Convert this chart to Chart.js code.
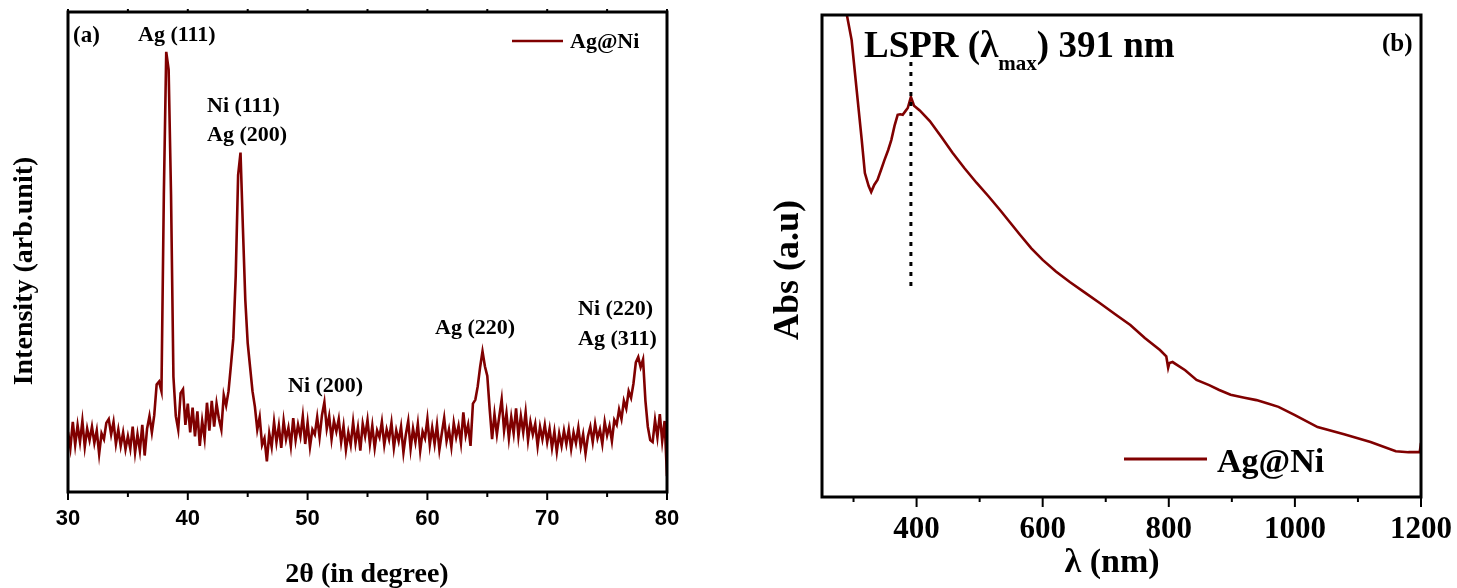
<!DOCTYPE html>
<html>
<head>
<meta charset="utf-8">
<script src="https://cdn.jsdelivr.net/npm/chart.js@4.4.0/dist/chart.umd.min.js"></script>
<style>
  body { margin: 0; background: #fff; overflow: hidden; }
  canvas { position: absolute; top: 0; }
  #chartA { left: 0; }
  #chartB { left: 730px; }
</style>
</head>
<body>
<canvas id="chartA" width="720" height="588"></canvas>
<canvas id="chartB" width="727" height="588"></canvas>
<script>
const darkRed = 'rgb(128, 0, 0)';
const serif = '"Liberation Serif", "Times New Roman", serif';
const sans = '"Liberation Sans", Arial, sans-serif';

// (a) XRD, sampled every 0.2 degree from 30 to 80
const thetaStart = 30;
const thetaStep = 0.2;
const xrdIntensity = [
  12.5, 9.2, 14.6, 9.8, 13.9,   10.4, 14.8, 9.4, 13.2, 10.8,
  13.6, 10.2, 12.8, 7.9, 12.2,  11.0, 14.4, 15.2, 12.0, 14.6,
  10.0, 13.0, 9.6, 12.4, 8.9,   11.6, 9.0, 13.6, 8.2, 12.0,
  8.6, 14.0, 7.6, 13.2, 15.8,   12.4, 16.0, 22.4, 23.0, 21.0,
  62.0, 91.7, 88.0, 62.0, 24.0, 15.8, 13.0, 20.6, 21.4, 14.0,
  18.4, 12.4, 17.6, 11.6, 16.8, 9.6, 14.8, 11.2, 18.6, 12.8,
  19.0, 13.6, 18.4, 15.2, 13.0, 20.2, 18.0, 21.0, 26.4, 32.0,
  45.0, 66.0, 70.7, 55.0, 40.0, 31.0, 26.0, 21.0, 17.8, 13.0,
  15.6, 9.8, 11.2, 6.4, 12.2,   9.4, 14.6, 10.4, 13.8, 9.2,
  14.8, 11.0, 13.4, 9.6, 15.4,  10.8, 14.0, 11.6, 15.8, 10.0,
  14.4, 9.4, 13.0, 12.0, 15.6,  11.4, 16.0, 18.7, 13.2, 15.8,
  11.0, 14.8, 12.6, 15.2, 10.4, 13.8, 8.8, 12.4, 9.8, 14.6,
  10.2, 13.4, 8.6, 14.2, 11.6,  15.0, 10.0, 13.8, 9.2, 12.8,
  11.4, 14.6, 9.8, 13.0, 11.0,  14.4, 9.2, 12.8, 10.6, 13.6,
  8.2, 12.0, 14.8, 9.0, 13.2,   10.4, 14.2, 8.6, 12.6, 11.2,
  15.2, 9.8, 13.4, 10.0, 14.0,  8.8, 12.2, 15.4, 10.6, 13.0,
  9.4, 14.4, 11.4, 13.8, 10.2,  16.6, 11.8, 14.0, 9.6, 18.4,
  19.2, 22.0, 26.0, 29.3, 26.2, 24.2, 17.2, 11.0, 16.2, 12.0,
  15.8, 19.3, 12.8, 16.4, 11.2, 15.6, 12.2, 17.4, 11.6, 15.8,
  12.4, 16.6, 10.8, 14.6, 12.0, 14.2, 9.6, 13.6, 11.0, 14.0,
  10.4, 13.2, 9.2, 12.6, 8.4,   12.2, 9.6, 12.8, 10.0, 13.0,
  9.0, 12.4, 10.2, 13.4, 9.4,   12.0, 8.0, 11.6, 13.6, 10.4,
  14.2, 11.2, 13.0, 10.0, 14.6, 11.8, 13.8, 10.6, 15.0, 14.0,
  17.2, 15.2, 19.0, 17.4, 21.0, 19.6, 22.6, 27.0, 28.1, 26.0,
  27.6, 19.0, 13.6, 10.8, 10.4, 15.0, 11.4, 16.2, 10.6, 14.8,
  3.3
];
const xrdTicks = [30, 35, 40, 45, 50, 55, 60, 65, 70, 75, 80];
const xrdMajor = [30, 40, 50, 60, 70, 80];

// (b) UV-vis absorbance
const uvWavelength = [288, 297, 305, 313, 318, 324, 328, 333, 338, 344, 349, 355, 360, 365, 370,
  374, 378, 382, 386, 391, 396, 405, 421, 440, 457, 476, 495, 514, 532, 548, 564, 582, 600,
  621, 643, 667, 691, 715, 739, 762, 786, 796, 799, 801, 806, 826, 844, 864, 880, 898, 920,
  939, 957, 974, 1000, 1036, 1078, 1120, 1160, 1180, 1198, 1200];
const uvAbs = [101, 94.8, 84.4, 74.1, 67.2, 64.5, 63.3, 64.8, 65.8, 68.0, 69.9, 72.0, 74.1, 77.0, 79.3,
  79.4, 79.3, 80.0, 80.7, 83.0, 81.2, 80.2, 78.0, 74.6, 71.4, 68.2, 65.2, 62.4, 59.6, 57.0, 54.4, 51.6, 49.2,
  46.8, 44.6, 42.4, 40.2, 37.9, 35.7, 33.0, 30.5, 29.2, 26.8, 27.8, 28.0, 26.3, 24.3, 23.2, 22.2, 21.2, 20.6,
  20.1, 19.4, 18.7, 17.0, 14.5, 13.0, 11.4, 9.5, 9.3, 9.3, 11.2];
const uvTicks = [300, 400, 500, 600, 700, 800, 900, 1000, 1100, 1200];
const uvMajor = [400, 600, 800, 1000, 1200];
const lsprPeak = 391;

const drawTicks = (ctx, a, scale, ticks, major, majLen, minLen, topLen) => {
  ctx.lineWidth = 2;
  ticks.forEach(v => {
    const px = scale.getPixelForValue(v);
    const len = major.includes(v) ? majLen : minLen;
    ctx.beginPath();
    ctx.moveTo(px, a.bottom);
    ctx.lineTo(px, a.bottom + len);
    if (topLen) {
      ctx.moveTo(px, a.top);
      ctx.lineTo(px, a.top - topLen);
    }
    ctx.stroke();
  });
};

const text = (ctx, str, x, y, size, align) => {
  ctx.font = `bold ${size}px ${serif}`;
  ctx.textAlign = align || 'left';
  ctx.fillText(str, x, y);
};

const vText = (ctx, str, x, y, size) => {
  ctx.save();
  ctx.translate(x, y);
  ctx.rotate(-Math.PI / 2);
  text(ctx, str, 0, 0, size, 'center');
  ctx.restore();
};

const decorA = {
  id: 'decorA',
  afterDraw(chart) {
    const { ctx, chartArea: a, scales: { x } } = chart;
    ctx.save();
    ctx.strokeStyle = '#000';
    ctx.fillStyle = '#000';
    ctx.lineWidth = 3;
    ctx.strokeRect(a.left, a.top, a.right - a.left, a.bottom - a.top);
    drawTicks(ctx, a, x, xrdTicks, xrdMajor, 8, 5, 3);

    text(ctx, '(a)', 73, 42, 23);
    text(ctx, 'Ag (111)', 138, 41, 22);
    text(ctx, 'Ni (111)', 207, 112, 22);
    text(ctx, 'Ag (200)', 207, 141, 22);
    text(ctx, 'Ni (200)', 288, 392, 22);
    text(ctx, 'Ag (220)', 435, 334, 22);
    text(ctx, 'Ni (220)', 578, 315, 22);
    text(ctx, 'Ag (311)', 578, 345, 22);

    // legend
    ctx.strokeStyle = darkRed;
    ctx.lineWidth = 2.5;
    ctx.beginPath();
    ctx.moveTo(512, 41);
    ctx.lineTo(563, 41);
    ctx.stroke();
    text(ctx, 'Ag@Ni', 570, 48, 22);

    text(ctx, '2\u03b8 (in degree)', 367, 582, 28, 'center');
    vText(ctx, 'Intensity (arb.unit)', 32, 271, 28);
    ctx.restore();
  }
};

const decorB = {
  id: 'decorB',
  afterDraw(chart) {
    const { ctx, chartArea: a, scales: { x } } = chart;
    ctx.save();
    ctx.strokeStyle = '#000';
    ctx.fillStyle = '#000';

    // dotted marker at the LSPR maximum
    const px = x.getPixelForValue(lsprPeak);
    ctx.lineWidth = 3;
    ctx.setLineDash([4, 6]);
    ctx.beginPath();
    ctx.moveTo(px, 62);
    ctx.lineTo(px, 287);
    ctx.stroke();
    ctx.setLineDash([]);

    ctx.lineWidth = 3;
    ctx.strokeRect(a.left, a.top, a.right - a.left, a.bottom - a.top);
    drawTicks(ctx, a, x, uvTicks, uvMajor, 10, 5, 0);

    // LSPR (λmax) 391 nm
    let cx = 134;
    const part1 = 'LSPR (\u03bb';
    text(ctx, part1, cx, 57, 37);
    cx += ctx.measureText(part1).width;
    text(ctx, 'max', cx, 70, 21);
    cx += ctx.measureText('max').width;
    text(ctx, ') 391 nm', cx, 57, 37);

    text(ctx, '(b)', 652, 51, 25);

    // legend
    ctx.strokeStyle = darkRed;
    ctx.lineWidth = 3;
    ctx.beginPath();
    ctx.moveTo(394, 459);
    ctx.lineTo(477, 459);
    ctx.stroke();
    text(ctx, 'Ag@Ni', 487, 472, 34);

    text(ctx, '\u03bb (nm)', 382, 572, 34, 'center');
    vText(ctx, 'Abs (a.u)', 68, 270, 36);
    ctx.restore();
  }
};

// edge tick labels must not push the plot area inwards
const noEdgePadding = s => {
  s.paddingLeft = 0;
  s.paddingRight = 0;
};

new Chart(document.getElementById('chartA'), {
  type: 'line',
  data: {
    datasets: [{
      label: 'Ag@Ni',
      data: xrdIntensity.map((v, i) => ({ x: thetaStart + i * thetaStep, y: v })),
      borderColor: darkRed,
      borderWidth: 2.6,
      pointRadius: 0,
      tension: 0,
      fill: false
    }]
  },
  options: {
    responsive: false,
    animation: false,
    devicePixelRatio: 1,
    layout: { padding: { left: 68, top: 12, right: 53, bottom: 0 } },
    plugins: { legend: { display: false }, tooltip: { enabled: false } },
    scales: {
      x: {
        type: 'linear',
        min: 30,
        max: 80,
        afterBuildTicks: s => { s.ticks = xrdTicks.map(v => ({ value: v })); },
        afterFit: s => { s.height = 96; noEdgePadding(s); },
        grid: { display: false, drawTicks: false },
        border: { display: false },
        ticks: {
          autoSkip: false,
          maxRotation: 0,
          padding: 14,
          color: '#000',
          font: { family: sans, size: 22, weight: 'bold' },
          callback: v => xrdMajor.includes(v) ? v : ''
        }
      },
      y: { display: false, min: 0, max: 100 }
    }
  },
  plugins: [decorA]
});

new Chart(document.getElementById('chartB'), {
  type: 'line',
  data: {
    datasets: [{
      label: 'Ag@Ni',
      data: uvWavelength.map((w, i) => ({ x: w, y: uvAbs[i] })),
      borderColor: darkRed,
      borderWidth: 2.6,
      pointRadius: 0,
      tension: 0,
      fill: false
    }]
  },
  options: {
    responsive: false,
    animation: false,
    devicePixelRatio: 1,
    layout: { padding: { left: 92, top: 15, right: 36, bottom: 0 } },
    plugins: { legend: { display: false }, tooltip: { enabled: false } },
    scales: {
      x: {
        type: 'linear',
        min: 250,
        max: 1200,
        afterBuildTicks: s => { s.ticks = uvTicks.map(v => ({ value: v })); },
        afterFit: s => { s.height = 91; noEdgePadding(s); },
        grid: { display: false, drawTicks: false },
        border: { display: false },
        ticks: {
          autoSkip: false,
          maxRotation: 0,
          padding: 14,
          color: '#000',
          font: { family: serif, size: 31, weight: 'bold' },
          callback: v => uvMajor.includes(v) ? v : ''
        }
      },
      y: { display: false, min: 0, max: 100 }
    }
  },
  plugins: [decorB]
});
</script>
</body>
</html>
